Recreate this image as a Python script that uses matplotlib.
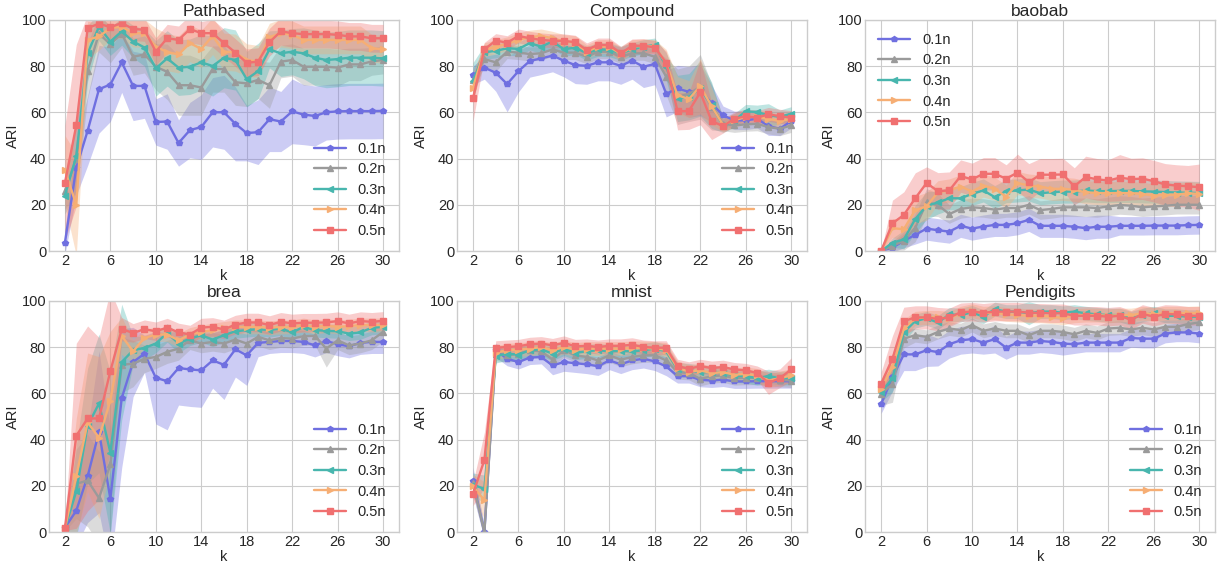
import numpy as np
import matplotlib
matplotlib.use('Agg')
import matplotlib.pyplot as plt

# Neighbourhood sizes k = 2..30
k_values = list(range(2, 31))
size_labels = ['0.1n', '0.2n', '0.3n', '0.4n', '0.5n']
series_colors = ['#6f6fe0', '#9a9a9a', '#48b6ae', '#f6ae74', '#f07070']
series_markers = ['p', '^', '<', '>', 's']
titles = ['Pathbased', 'Compound', 'baobab', 'brea', 'mnist', 'Pendigits']

# Mean ARI per sample size (rows: 0.1n .. 0.5n)
pathbased_mean = [
    [3.6, 36, 52, 70, 72, 81.6, 71.4, 71.4, 55.8, 56, 46.7, 52.3, 53.6, 60, 60, 55, 51, 51.4, 57, 56, 60.4, 59, 58.4, 60, 60.4, 60.5, 60.5, 60.5, 60.6],
    [26, 40, 78, 94, 89.4, 94, 84, 85, 79.7, 77.5, 71.7, 71.7, 70.7, 78.7, 78.7, 73, 72.5, 74, 71.7, 81.9, 82.6, 79.7, 79.7, 79.7, 79.3, 80.7, 80.7, 82, 82.6],
    [24, 41, 85.5, 97, 90.6, 95, 90.6, 88, 79, 83.3, 79.3, 79.7, 81.6, 80, 83.6, 82.6, 74.3, 77.8, 87.2, 85.5, 86.2, 85.5, 83.6, 82.6, 83, 83.6, 83.6, 83.6, 83.3],
    [35, 20, 91.3, 92.8, 96.4, 97, 94.2, 94.2, 88.4, 86, 85, 89.9, 87.4, 93, 86.2, 85.8, 82.6, 81.9, 92.5, 94.2, 93.5, 91.3, 91.3, 91.3, 91.3, 91.3, 91.3, 87.7, 87.2],
    [29.4, 54.3, 96.4, 98.3, 96.8, 98.6, 96, 95.7, 86.2, 92, 91.3, 96, 94.2, 94.2, 89.9, 85.8, 81.4, 81.9, 90.3, 95, 94.2, 93.8, 93.8, 93.8, 93.5, 92.8, 92.8, 92, 92],
]
pathbased_std = [
    [5, 12, 15, 19, 16, 13, 15, 14, 10, 12, 10, 12, 14, 15, 16, 16, 12, 14, 14, 13, 14, 13, 13, 12, 12, 12, 12, 12, 12],
    [8, 15, 12, 8, 8, 6, 8, 8, 10, 12, 13, 13, 12, 10, 10, 10, 10, 8, 10, 7, 7, 8, 8, 8, 8, 7, 7, 6, 6],
    [8, 15, 12, 6, 6, 6, 7, 8, 12, 12, 12, 12, 12, 13, 13, 13, 12, 12, 8, 10, 10, 11, 12, 12, 12, 12, 12, 12, 12],
    [15, 22, 8, 6, 5, 5, 6, 6, 8, 8, 8, 8, 8, 8, 8, 8, 7, 7, 6, 6, 6, 6, 6, 6, 6, 6, 6, 6, 6],
    [25, 35, 6, 5, 5, 5, 5, 5, 6, 6, 6, 6, 5, 6, 6, 6, 6, 6, 6, 6, 6, 6, 6, 6, 6, 6, 6, 6, 6],
]

compound_mean = [
    [76, 79.3, 77.1, 72.2, 77.8, 82.2, 83.3, 84.5, 82.3, 80.4, 80.1, 81.6, 81.6, 80.1, 82.3, 79.7, 80.9, 68, 70.3, 68.8, 69.6, 63.8, 58.7, 56.5, 56.5, 57.2, 54, 52.9, 56.2],
    [74, 83, 81.6, 86.2, 85.8, 85.2, 85.5, 87.2, 85.8, 85.8, 84, 86.2, 86.2, 84, 85.5, 85.5, 84, 75.4, 66.7, 68, 71, 62.3, 55, 54.3, 54.8, 55, 53.6, 52.9, 54.3],
    [73.5, 86, 86.5, 87.7, 87.4, 89.9, 88.4, 90.6, 87.2, 88, 85.5, 87.2, 87, 85.5, 87.2, 88.4, 89.1, 79.7, 66, 66.7, 70.3, 63, 54.3, 56.5, 60.4, 60.1, 58.7, 58, 59.4],
    [70.7, 87, 88.4, 89.6, 91.3, 92.5, 93, 92, 90.6, 90.1, 86.2, 88.4, 88.4, 85.2, 88.4, 88.7, 88.4, 81.2, 67.4, 65.7, 71.3, 62.6, 54.6, 56.5, 58, 58, 57.2, 56.2, 57.2],
    [66, 87.2, 91, 90.1, 93, 92, 91.3, 90.9, 90.9, 90.3, 87, 89.1, 89.1, 85.5, 88.7, 88.8, 88, 81.4, 60.4, 60.6, 68.6, 56.2, 54, 57.2, 58.3, 57.7, 59.1, 58.3, 57.7],
]
compound_std = [
    [4, 5, 8, 12, 9, 7, 7, 7, 7, 8, 8, 8, 8, 8, 8, 9, 9, 10, 10, 11, 11, 8, 4, 4, 4, 4, 4, 3, 3],
    [5, 3, 4, 3, 3, 3, 3, 3, 3, 3, 3, 3, 3, 3, 3, 3, 3, 8, 12, 12, 14, 10, 3, 3, 3, 3, 3, 3, 3],
    [8, 3, 3, 3, 3, 3, 3, 3, 3, 3, 3, 3, 3, 3, 3, 3, 3, 6, 10, 10, 12, 10, 3, 3, 3, 3, 5, 3, 3],
    [6, 3, 3, 3, 3, 3, 3, 3, 3, 3, 3, 3, 3, 3, 3, 3, 3, 6, 8, 8, 12, 8, 3, 3, 3, 3, 3, 3, 3],
    [10, 3, 3, 3, 3, 3, 3, 3, 3, 3, 3, 3, 3, 3, 3, 3, 3, 5, 8, 8, 14, 8, 3, 3, 3, 3, 3, 3, 3],
]

baobab_mean = [
    [0, 1.5, 4.4, 7, 9.7, 9, 8.4, 10.9, 9.7, 10.6, 11.3, 11.3, 12, 13.5, 10.9, 10.9, 10.9, 10.5, 9.9, 10.5, 10.5, 10.9, 10.9, 10.9, 11, 11, 11, 11.2, 11.3],
    [0, 2.2, 4.4, 10, 21, 19.9, 16, 18.2, 18.9, 18.6, 17.9, 18.6, 18.6, 20, 17.7, 18.2, 18.9, 18.9, 18.9, 18.6, 19.3, 19.9, 19.6, 18.9, 19.3, 19.6, 20, 20, 20],
    [0, 3.6, 5, 13.8, 19.6, 21, 22.8, 22.8, 24.7, 26.2, 23.3, 25.9, 26.2, 26.6, 25, 25.4, 25.7, 25.7, 26.2, 25.9, 25.9, 26, 26, 25.8, 25.7, 25.5, 25.3, 25.2, 25.1],
    [0, 9.9, 9.4, 17.7, 19.3, 25.4, 26.2, 27.9, 25.7, 28.3, 26.9, 23.5, 29.4, 28.3, 27.9, 26.9, 26.9, 26.5, 25.4, 25.1, 25, 25.1, 25, 24.7, 24, 24.3, 24.4, 25, 24.7],
    [0, 12, 15.6, 22.8, 29.4, 25.9, 26.2, 32.4, 31, 33.4, 33.4, 31.3, 33.9, 29.8, 33, 33, 33.1, 28, 32, 31, 30.5, 31.7, 31.1, 31.3, 30.2, 28.8, 28.3, 28, 27.6],
]
baobab_std = [
    [0, 2, 3, 4, 5, 5, 5, 5, 5, 5, 5, 5, 5, 5, 5, 5, 5, 5, 5, 5, 5, 4, 4, 4, 4, 4, 4, 4, 4],
    [0, 2, 4, 6, 6, 5, 4, 4, 4, 4, 4, 4, 4, 4, 4, 4, 4, 4, 4, 4, 4, 4, 4, 4, 4, 4, 4, 4, 4],
    [0, 2, 4, 6, 6, 5, 5, 5, 5, 5, 5, 5, 5, 5, 5, 5, 5, 5, 5, 5, 5, 5, 5, 5, 5, 5, 5, 5, 5],
    [0, 4, 5, 6, 6, 5, 5, 5, 5, 5, 5, 5, 5, 5, 5, 5, 5, 5, 5, 5, 5, 5, 5, 5, 5, 5, 5, 5, 5],
    [0, 10, 10, 11, 7, 8, 8, 7, 7, 7, 7, 6, 8, 8, 7, 7, 7, 8, 9, 9, 9, 10, 9, 9, 9, 9, 9, 9, 10],
]

brea_mean = [
    [2, 9.3, 24.2, 43.4, 14.5, 58, 73.6, 77.2, 66.8, 65.3, 71, 70.4, 70, 74.3, 72.4, 79.1, 76.5, 81.9, 82.3, 82.7, 82.7, 82.3, 80.8, 82.7, 81.3, 80.4, 81.9, 82.3, 82.3],
    [1.7, 20.9, 22.4, 14.8, 29.3, 72.4, 72.9, 75, 75.8, 78, 79.4, 83, 81.6, 82.3, 81.6, 83.3, 81.6, 84.5, 83, 84, 83.7, 84.8, 84.9, 79.4, 83, 80.8, 81.6, 83, 86.6],
    [1.7, 17.7, 46, 55.7, 34.4, 73.6, 78.7, 79.7, 81.6, 86.2, 81.6, 83.7, 85.2, 83.3, 85.2, 86.9, 87.4, 87.8, 87.4, 88.1, 86.4, 88.8, 87.4, 87.1, 86.9, 85.9, 86.4, 88.4, 88.8],
    [1.7, 24.2, 47.5, 40.9, 56.9, 84.9, 78.2, 84, 85.5, 85.5, 83, 85.5, 86.6, 87.4, 88.1, 88.8, 88.8, 88.8, 88.4, 88.8, 88.8, 89.6, 88.8, 89.3, 88.8, 89.1, 89.6, 89.6, 89.6],
    [1.7, 41.7, 49.2, 49.2, 69.7, 87.8, 86.2, 87.8, 86.9, 88.5, 86.4, 85.5, 88.5, 88.8, 87.7, 89.8, 90.7, 90.7, 89.6, 91, 90.3, 90.6, 90.6, 90.7, 91.3, 90.3, 91.3, 91, 91.4],
]
brea_std = [
    [1, 15, 20, 35, 30, 30, 15, 8, 20, 21, 16, 16, 16, 12, 15, 12, 13, 6, 5, 5, 5, 5, 5, 5, 5, 5, 5, 5, 5],
    [1, 15, 20, 20, 30, 12, 10, 6, 5, 5, 5, 4, 4, 4, 4, 4, 4, 4, 4, 4, 4, 4, 4, 8, 4, 4, 4, 4, 4],
    [1, 20, 25, 30, 35, 25, 6, 5, 4, 4, 4, 3, 3, 3, 3, 3, 3, 3, 3, 3, 3, 3, 3, 3, 3, 3, 3, 3, 3],
    [1, 25, 30, 35, 30, 8, 5, 4, 3, 3, 3, 3, 3, 3, 3, 3, 3, 3, 3, 3, 3, 3, 3, 3, 3, 3, 3, 3, 3],
    [1, 40, 40, 35, 35, 5, 4, 4, 4, 4, 4, 4, 4, 4, 4, 4, 4, 4, 4, 4, 4, 4, 4, 4, 4, 4, 4, 4, 4],
]

mnist_mean = [
    [22, 0, 78.7, 75, 73.6, 75.5, 75.8, 72.1, 73.6, 73.1, 72.6, 71.8, 74.3, 72.6, 74.3, 75, 73.9, 71.7, 67.5, 67.5, 65.9, 65.6, 66, 65.2, 65.2, 65.3, 65.3, 65.3, 65.3],
    [21.3, 0, 77.2, 76.5, 77.2, 78.7, 78.2, 74.7, 78.7, 76.5, 75.8, 74.3, 76.5, 74.6, 75.8, 76.5, 76.5, 74.3, 69.2, 68.9, 66.3, 67.5, 67.8, 66.6, 66.8, 66.8, 66.3, 65.9, 65.6],
    [20.6, 18.7, 76.2, 77.2, 76.8, 78.7, 79.1, 77.2, 79.4, 77.6, 78.2, 78.7, 78.2, 78.4, 78.2, 78.7, 79.4, 78.2, 70.4, 70, 69.2, 69.2, 68.8, 67.8, 67.5, 66.6, 67.5, 66.6, 66.8],
    [19.9, 13.8, 77.6, 78.7, 79, 79.4, 80.1, 78.7, 80.1, 79, 79.4, 79.4, 79.4, 79.4, 79.7, 79.7, 79.4, 79, 71, 69.5, 70, 68.8, 69.2, 68.1, 68.5, 67.8, 65.6, 66.6, 67.8],
    [16.5, 31.2, 79.8, 80.1, 80.4, 81.3, 81.6, 80.8, 81.9, 80.4, 80.6, 80.1, 80.6, 80.6, 81.1, 80.1, 79.8, 79.8, 71.8, 70.7, 71.8, 71, 71.4, 70.4, 70, 68.9, 64.6, 66.6, 70.4],
]
mnist_std = [
    [6, 3, 3, 3, 3, 3, 3, 4, 4, 4, 4, 4, 4, 4, 4, 4, 4, 4, 3, 3, 3, 3, 3, 3, 3, 3, 3, 3, 3],
    [5, 3, 3, 3, 3, 3, 3, 3, 3, 3, 3, 3, 3, 3, 3, 3, 3, 3, 3, 3, 3, 3, 3, 3, 3, 3, 3, 3, 3],
    [5, 6, 3, 3, 3, 3, 3, 3, 3, 3, 3, 3, 3, 3, 3, 3, 3, 3, 3, 3, 3, 3, 3, 3, 3, 3, 3, 3, 3],
    [5, 8, 3, 3, 3, 3, 3, 3, 3, 3, 3, 3, 3, 3, 3, 3, 3, 3, 3, 3, 3, 3, 3, 3, 3, 3, 3, 3, 3],
    [5, 12, 3, 3, 3, 3, 3, 3, 3, 3, 3, 3, 3, 3, 3, 3, 3, 3, 3, 3, 3, 3, 3, 3, 3, 3, 5, 4, 5],
]

pendigits_mean = [
    [55.4, 67, 76.9, 76.9, 78.7, 77.9, 81.3, 83, 83.5, 82, 83.5, 79.8, 82, 82, 82.7, 82.3, 81.6, 81.3, 82, 82, 82, 82, 84, 83.7, 83.7, 85.9, 86.4, 86.4, 85.9],
    [59.8, 64.2, 83.7, 85.2, 84.5, 86.6, 88.1, 87.4, 89.6, 87.1, 88.1, 87.1, 87.1, 85.2, 87.1, 87.1, 86.6, 85.6, 87.1, 86.2, 88.1, 88.4, 87.7, 88.4, 87.7, 88.8, 88.8, 90, 90.7],
    [60.5, 66.6, 86.4, 91.3, 92.5, 90.7, 94.2, 93.9, 95.1, 93.2, 96.5, 95.4, 95.4, 94.7, 95.4, 95.4, 94.9, 95.4, 94.7, 94.2, 93.9, 93.9, 92.5, 93.9, 94.7, 93.6, 93.6, 93.2, 93.2],
    [62, 71.4, 88.1, 92.5, 92.9, 92.9, 92.5, 94.7, 95.8, 94.7, 94.9, 94.2, 93.9, 93.6, 93.6, 93.2, 92.7, 93.6, 93.9, 93.9, 93.6, 93.9, 93.9, 94.7, 94.2, 94.7, 94.7, 94.7, 94.9],
    [64.2, 75, 91.3, 92.9, 92.9, 92.2, 92.9, 95.1, 95.4, 94.9, 95.4, 95.4, 95.4, 94.9, 94.9, 94.7, 94.7, 93.6, 93.6, 93.6, 93.2, 93.6, 91.8, 94.4, 93.2, 94.4, 94.2, 93.6, 93.6],
]
pendigits_std = [
    [4, 6, 7, 7, 7, 6, 6, 6, 6, 5, 6, 5, 5, 5, 5, 5, 5, 4, 4, 4, 4, 4, 4, 4, 4, 4, 4, 4, 4],
    [5, 8, 4, 3, 3, 3, 3, 3, 3, 3, 3, 3, 3, 3, 3, 3, 3, 3, 3, 3, 3, 3, 3, 3, 3, 3, 3, 3, 3],
    [4, 6, 4, 3, 3, 3, 3, 3, 3, 3, 3, 3, 3, 5, 3, 3, 3, 3, 3, 3, 3, 3, 3, 3, 3, 3, 3, 3, 3],
    [4, 6, 4, 3, 3, 3, 3, 3, 3, 3, 3, 3, 3, 3, 3, 3, 3, 3, 3, 3, 3, 3, 3, 3, 3, 3, 3, 3, 3],
    [5, 10, 6, 5, 5, 5, 4, 4, 4, 4, 4, 4, 4, 4, 4, 4, 4, 4, 4, 4, 4, 4, 4, 4, 4, 4, 4, 4, 4],
]

panel_means = [pathbased_mean, compound_mean, baobab_mean, brea_mean, mnist_mean, pendigits_mean]
panel_stds = [pathbased_std, compound_std, baobab_std, brea_std, mnist_std, pendigits_std]
legend_locs = ['lower right', 'lower right', 'upper left', 'lower right', 'lower right', 'lower right']


def plot_panel(ax, title, means, stds, legend_loc):
    """Draw mean ARI lines with +/- std bands for every sample size."""
    k = np.array(k_values)
    for i, label in enumerate(size_labels):
        m = np.array(means[i], dtype=float)
        s = np.array(stds[i], dtype=float)
        ax.fill_between(k, m - s, m + s, color=series_colors[i], alpha=0.35, linewidth=0)
        ax.plot(k, m, color=series_colors[i], marker=series_markers[i],
                markersize=4 if i == 0 else 5, linewidth=1.7, label=label)

    ax.set_title(title, fontsize=12.5, pad=3)
    ax.set_ylim(0, 100)
    ax.set_xticks(range(2, 31, 4))
    ax.set_yticks(range(0, 101, 20))
    ax.tick_params(labelsize=10.5, pad=2)
    ax.set_xlabel('k', fontsize=10.5, labelpad=1)
    ax.set_ylabel('ARI', fontsize=10.5, labelpad=1)
    ax.legend(loc=legend_loc, fontsize=10.5, frameon=False,
              handlelength=2.2, handletextpad=0.8, labelspacing=0.45)


plt.style.use('seaborn-v0_8-whitegrid')
fig, axes = plt.subplots(2, 3, figsize=(12.25, 5.65), dpi=100)
fig.subplots_adjust(left=0.040, right=0.992, top=0.965, bottom=0.058,
                    wspace=0.166, hspace=0.216)

for ax, title, means, stds, loc in zip(axes.flat, titles, panel_means, panel_stds, legend_locs):
    plot_panel(ax, title, means, stds, loc)

plt.savefig('out.png')
plt.close(fig)
